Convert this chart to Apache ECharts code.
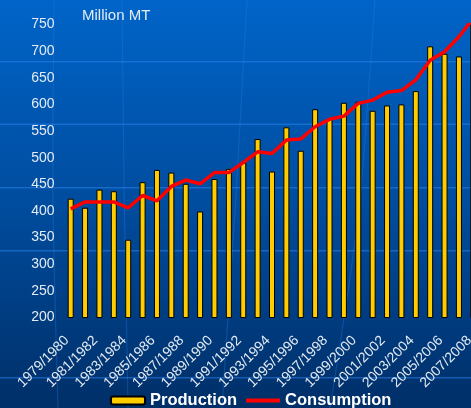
<!DOCTYPE html>
<html>
<head>
<meta charset="utf-8">
<script src="https://cdn.jsdelivr.net/npm/echarts@6/dist/echarts.min.js"></script>
<style>
html,body{margin:0;padding:0;background:#004a9a;overflow:hidden;}
#c{width:471px;height:408px;}
</style>
</head>
<body>
<div id="c"></div>
<script>
var categories = ['1979/1980','1980/1981','1981/1982','1982/1983','1983/1984','1984/1985','1985/1986','1986/1987','1987/1988','1988/1989','1989/1990','1990/1991','1991/1992','1992/1993','1993/1994','1994/1995','1995/1996','1996/1997','1997/1998','1998/1999','1999/2000','2000/2001','2001/2002','2002/2003','2003/2004','2004/2005','2005/2006','2006/2007','2007/2008'];
var production = [423, 406, 440, 437, 346, 454, 477, 472, 451, 399, 460, 479, 491, 535, 474, 557, 513, 591, 572, 603, 605, 588, 598, 600, 625, 709, 695, 690, 757];
var consumption = [404, 417, 417, 417, 406, 429, 419, 446, 458, 451, 472, 472, 491, 511, 508, 533, 535, 558, 572, 578, 602, 608, 623, 626, 646, 683, 699, 727, 762];
var yMin = 200, yMax = 750, yStep = 50;

var chart = echarts.init(document.getElementById('c'));
var deco = [];
[61.7, 124.3, 187.7, 250.7, 377.7].forEach(function (y) {
  deco.push({type: 'line', silent: true, z: -1, shape: {x1: 0, y1: y, x2: 471, y2: y},
    style: {stroke: 'rgba(40,130,235,0.55)', lineWidth: 1.5}});
});
[[54, 0, 52, 200, 58, 408], [122, 0, 124, 200, 128, 408], [247, 0, 236, 200, 222, 408], [375, 0, 360, 220, 330, 408]].forEach(function (p) {
  deco.push({type: 'bezierCurve', silent: true, z: -1,
    shape: {x1: p[0], y1: p[1], cpx1: p[2], cpy1: p[3], cpx2: p[2], cpy2: p[3], x2: p[4], y2: p[5]},
    style: {stroke: 'rgba(40,130,235,0.3)', lineWidth: 1.2, fill: null}});
});

chart.setOption({
  backgroundColor: new echarts.graphic.LinearGradient(0, 0, 0, 1, [
    {offset: 0, color: '#0064c8'},
    {offset: 0.5, color: '#004c9e'},
    {offset: 1, color: '#002f68'}
  ]),
  animation: false,
  textStyle: {fontFamily: 'Liberation Sans, Arial, sans-serif'},
  title: {
    text: 'Million MT', left: 82, top: 8, padding: 0,
    textStyle: {color: '#e4ebf3', fontSize: 15, fontWeight: 'normal'}
  },
  graphic: deco,
  legend: {
    left: 110, top: 392, padding: 0,
    itemWidth: 34, itemHeight: 8, itemGap: 7,
    textStyle: {color: '#ffffff', fontSize: 16.5, fontWeight: 'bold'},
    data: ['Production', {name: 'Consumption', itemStyle: {opacity: 0}, lineStyle: {width: 4, color: '#ff0000'}}]
  },
  grid: {left: 63.5, top: 24.5, right: -9.5, bottom: 90.5, outerBoundsMode: 'none', containLabel: false},
  xAxis: {
    type: 'category', data: categories,
    axisLine: {show: false}, axisTick: {show: false},
    axisLabel: {interval: 1, rotate: 45, color: '#e4ebf3', fontSize: 14, margin: 17, padding: [0, 5.5, 0, 0]}
  },
  yAxis: {
    type: 'value', min: yMin, max: yMax, interval: yStep,
    axisLine: {show: false}, axisTick: {show: false}, splitLine: {show: false},
    axisLabel: {color: '#e4ebf3', fontSize: 14, margin: 9}
  },
  series: [
    {
      name: 'Production', type: 'bar', data: production, barWidth: 6,
      itemStyle: {color: '#ffcc00', borderColor: '#000000', borderWidth: 1}
    },
    {
      name: 'Consumption', type: 'line', data: consumption, symbol: 'none', z: 5,
      lineStyle: {color: '#ff0000', width: 3.5}, itemStyle: {color: '#ff0000'}
    }
  ]
});
</script>
</body>
</html>
